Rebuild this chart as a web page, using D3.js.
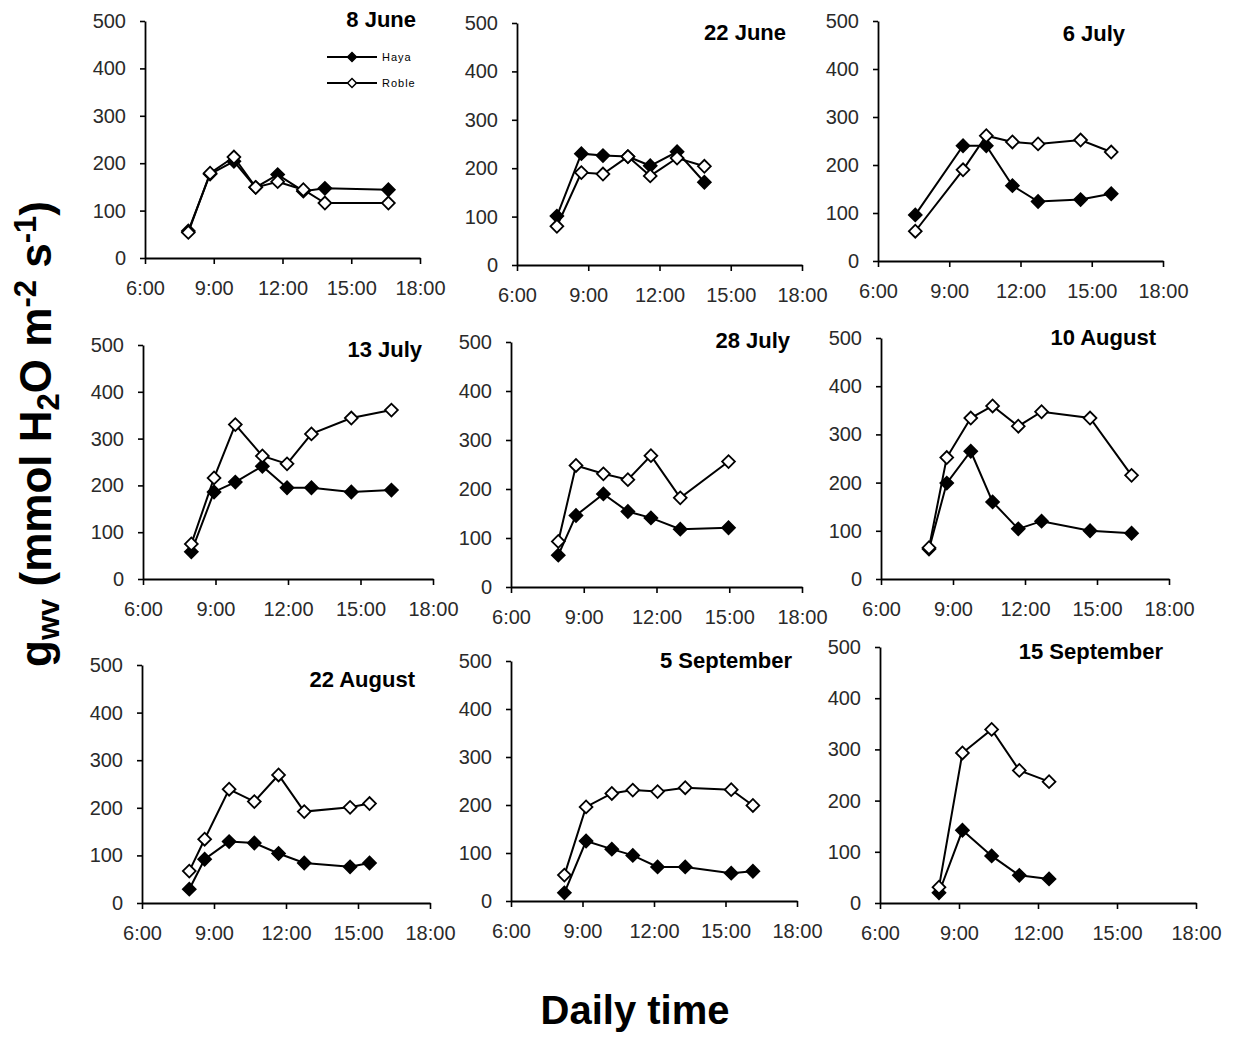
<!DOCTYPE html>
<html>
<head>
<meta charset="utf-8">
<script src="https://cdn.jsdelivr.net/npm/d3@7"></script>
<style>
  html, body { margin: 0; padding: 0; background: #fff; }
  svg { display: block; }
  text { font-family: "Liberation Sans", Arial, sans-serif; }
</style>
</head>
<body>
<svg id="chart" width="1240" height="1037"></svg>
<script>
// ---------------- data ----------------
const panelTitles = ["8 June", "22 June", "6 July", "13 July", "28 July", "10 August", "22 August", "5 September", "15 September"];
const seriesNames = ["Haya", "Roble"];

// measurement times (decimal hours) per panel
const times = [
  [7.89, 8.84, 9.88, 10.83, 11.79, 12.91, 13.85, 16.62],
  [7.68, 8.71, 9.62, 10.67, 11.61, 12.74, 13.89],
  [7.57, 9.58, 10.56, 11.66, 12.74, 14.53, 15.82],
  [8.0, 8.94, 9.82, 10.94, 11.96, 12.97, 14.62, 16.28],
  [7.95, 8.68, 9.81, 10.82, 11.77, 12.98, 14.97],
  [8.0, 8.74, 9.74, 10.65, 11.72, 12.69, 14.71, 16.44],
  [7.97, 8.61, 9.63, 10.68, 11.69, 12.76, 14.67, 15.48],
  [8.24, 9.15, 10.23, 11.11, 12.15, 13.31, 15.24, 16.15],
  [8.24, 9.13, 10.24, 11.29, 12.42]
];

const hayaValues = [
  [57, 177, 204, 149, 176, 141, 147, 144],
  [101, 230, 226, 224, 205, 234, 171],
  [96, 240, 240, 157, 124, 128, 140],
  [58, 186, 207, 241, 195, 195, 186, 190],
  [65, 146, 190, 154, 141, 118, 121],
  [62, 199, 265, 160, 104, 120, 100, 95],
  [29, 92, 129, 126, 104, 84, 76, 84],
  [17, 125, 108, 95, 71, 71, 58, 62],
  [20, 142, 92, 54, 47]
];

const robleValues = [
  [54, 179, 213, 149, 161, 144, 116, 116],
  [80, 191, 188, 224, 184, 221, 204],
  [62, 190, 261, 248, 244, 252, 227],
  [75, 216, 330, 263, 246, 310, 344, 361],
  [93, 248, 231, 219, 268, 182, 256],
  [65, 252, 334, 359, 317, 347, 334, 215],
  [67, 134, 239, 213, 269, 192, 201, 209],
  [54, 196, 224, 231, 228, 236, 232, 199],
  [31, 293, 339, 259, 237]
];

const xTickValues = [6, 9, 12, 15, 18];
const xTickLabels = ["6:00", "9:00", "12:00", "15:00", "18:00"];
const yTickValues = [0, 100, 200, 300, 400, 500];

// ---------------- layout (pixel geometry of each panel) ----------------
// x0: y-axis position, x1: 18:00 position, yTop: value 500, yBot: value 0, tx/ty: title right edge / centre
const layout = [
  {x0: 145, x1: 420, yTop: 21, yBot: 258, tx: 416, ty: 19},
  {x0: 517, x1: 802, yTop: 23, yBot: 265, tx: 786, ty: 32},
  {x0: 878, x1: 1163, yTop: 21, yBot: 261, tx: 1125, ty: 33},
  {x0: 143, x1: 433, yTop: 345, yBot: 579, tx: 422, ty: 349},
  {x0: 511, x1: 802, yTop: 342, yBot: 587, tx: 790, ty: 340},
  {x0: 881, x1: 1169, yTop: 338, yBot: 579, tx: 1156, ty: 337},
  {x0: 142, x1: 430, yTop: 665, yBot: 903, tx: 415, ty: 679},
  {x0: 511, x1: 797, yTop: 661, yBot: 901, tx: 792, ty: 660},
  {x0: 880, x1: 1196, yTop: 647, yBot: 903, tx: 1163, ty: 651}
];

const svg = d3.select("#chart");
const diamond = d3.symbol().type(d3.symbolSquare).size(82);

panelTitles.forEach((title, i) => {
  const L = layout[i];
  const x = d3.scaleLinear().domain([6, 18]).range([L.x0, L.x1]);
  const y = d3.scaleLinear().domain([0, 500]).range([L.yBot, L.yTop]);
  const g = svg.append("g");

  const xAxis = d3.axisBottom(x).tickValues(xTickValues)
    .tickFormat((d, k) => xTickLabels[k]).tickSizeInner(6).tickSizeOuter(0).tickPadding(17);
  const yAxis = d3.axisLeft(y).tickValues(yTickValues)
    .tickFormat(d3.format("d")).tickSizeInner(5).tickSizeOuter(0).tickPadding(14);

  const gx = g.append("g").attr("transform", `translate(0,${L.yBot})`).call(xAxis);
  const gy = g.append("g").attr("transform", `translate(${L.x0},0)`).call(yAxis);
  [gx, gy].forEach(a => {
    a.select(".domain").attr("stroke", "#000").attr("stroke-width", 1.8);
    a.selectAll(".tick line").attr("stroke", "#000").attr("stroke-width", 1.6);
    a.selectAll(".tick text").attr("font-size", 20).attr("fill", "#2a2a2a")
      .attr("font-family", "'Liberation Sans', Arial, sans-serif");
  });

  // title
  g.append("text").attr("x", L.tx).attr("y", L.ty).attr("dy", "0.36em")
    .attr("text-anchor", "end").attr("font-size", 22).attr("font-weight", "bold")
    .attr("fill", "#000").text(title);

  const series = [
    {name: seriesNames[0], vals: hayaValues[i], fill: "#000"},
    {name: seriesNames[1], vals: robleValues[i], fill: "#fff"}
  ];
  const line = d3.line().x(d => x(d[0])).y(d => y(d[1]));
  series.forEach(s => {
    const pts = times[i].map((t, k) => [t, s.vals[k]]);
    g.append("path").datum(pts).attr("d", line)
      .attr("fill", "none").attr("stroke", "#000").attr("stroke-width", 2);
    g.selectAll(null).data(pts).enter().append("path")
      .attr("d", diamond)
      .attr("transform", d => `translate(${x(d[0])},${y(d[1])}) rotate(45)`)
      .attr("fill", s.fill).attr("stroke", "#000").attr("stroke-width", 1.8);
  });

  // legend only in the first panel
  if (i === 0) {
    const lg = svg.append("g");
    series.forEach((s, k) => {
      const ly = 57 + k * 26;
      lg.append("line").attr("x1", 327).attr("x2", 377).attr("y1", ly).attr("y2", ly)
        .attr("stroke", "#000").attr("stroke-width", 2.2);
      lg.append("path").attr("d", d3.symbol().type(d3.symbolSquare).size(40))
        .attr("transform", `translate(352,${ly}) rotate(45)`)
        .attr("fill", s.fill).attr("stroke", "#000").attr("stroke-width", 1.5);
      lg.append("text").attr("x", 382).attr("y", ly).attr("dy", "0.35em")
        .attr("font-size", 11).attr("letter-spacing", 1).attr("fill", "#000").text(s.name);
    });
  }
});

// axis titles
svg.append("text").attr("x", 635).attr("y", 1010).attr("dy", "0.35em")
  .attr("text-anchor", "middle").attr("font-size", 40).attr("font-weight", "bold")
  .attr("fill", "#000").text("Daily time");

const yt = svg.append("text")
  .attr("transform", "translate(51,434) rotate(-90)")
  .attr("text-anchor", "middle").attr("font-size", 44).attr("font-weight", "bold").attr("fill", "#000");
yt.append("tspan").text("g");
yt.append("tspan").attr("font-size", 31).attr("dy", 8).text("wv");
yt.append("tspan").attr("dy", -8).text(" (mmol H");
yt.append("tspan").attr("font-size", 31).attr("dy", 8).text("2");
yt.append("tspan").attr("dy", -8).text("O m");
yt.append("tspan").attr("font-size", 31).attr("dy", -15).text("-2");
yt.append("tspan").attr("dy", 15).text(" s");
yt.append("tspan").attr("font-size", 31).attr("dy", -15).text("-1");
yt.append("tspan").attr("dy", 15).text(")");
</script>
</body>
</html>
